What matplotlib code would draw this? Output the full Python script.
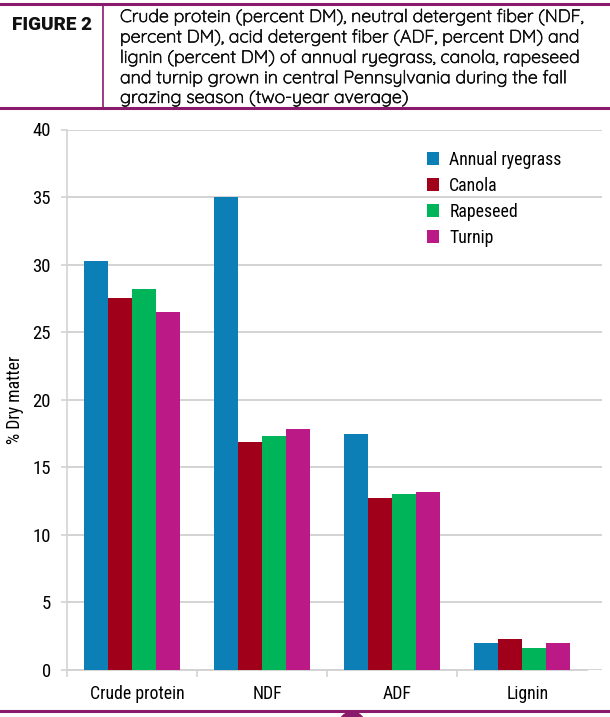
import numpy as np
import matplotlib
matplotlib.use("Agg")
import matplotlib.pyplot as plt
import matplotlib.patheffects as pe
from matplotlib.patches import Ellipse

# data
categories = ["Crude protein", "NDF", "ADF", "Lignin"]
series_names = ["Annual ryegrass", "Canola", "Rapeseed", "Turnip"]
ryegrass = [30.3, 35.0, 17.5, 2.0]
canola = [27.5, 16.9, 12.7, 2.3]
rapeseed = [28.2, 17.3, 13.0, 1.6]
turnip = [26.5, 17.8, 13.2, 2.0]
yticks = [0, 5, 10, 15, 20, 25, 30, 35, 40]

colors = ["#0C7FB6", "#A0001A", "#00B45A", "#BB1A86"]
purple = "#8A1B6C"
narrow = ["Roboto Condensed", "DejaVu Sans"]
capfont = ["Quicksand", "DejaVu Sans"]

fig = plt.figure(figsize=(6.1, 7.17), dpi=100)

# header block
fig.add_artist(plt.Line2D([0, 1], [1 - 4 / 717, 1 - 4 / 717], color=purple, lw=2.2))
fig.add_artist(plt.Line2D([0, 1], [1 - 108 / 717, 1 - 108 / 717], color=purple, lw=2.2))
fig.add_artist(plt.Line2D([103 / 610, 103 / 610], [1 - 108 / 717, 1 - 4 / 717], color=purple, lw=1.2))
fig.text(12 / 610, 1 - 25 / 717, "FIGURE 2", fontsize=13.6, fontweight="black",
         family=["Roboto", "DejaVu Sans"], va="center", ha="left", color="#111111")
caption = ("Crude protein (percent DM), neutral detergent fiber (NDF,\n"
           "percent DM), acid detergent fiber (ADF, percent DM) and\n"
           "lignin (percent DM) of annual ryegrass, canola, rapeseed\n"
           "and turnip grown in central Pennsylvania during the fall\n"
           "grazing season (two-year average)")
fig.text(120 / 610, 1 - 9 / 717, caption, fontsize=12.8, va="top", ha="left",
         family=capfont, weight="bold", color="#111111", linespacing=1.28,
         path_effects=[pe.withStroke(linewidth=0.5, foreground="#111111")])

# bottom rule and small decoration
fig.add_artist(plt.Line2D([0, 1], [1 - 711 / 717, 1 - 711 / 717], color=purple, lw=2.2))
fig.add_artist(Ellipse((352 / 610, -8 / 717), 26 / 610, 26 / 717, color=purple,
                       transform=fig.transFigure))

ax = fig.add_axes([67 / 610, 47 / 717, 535 / 610, 540.5 / 717])

x = np.arange(len(categories))
w = 0.185
all_series = [ryegrass, canola, rapeseed, turnip]
for i, (vals, name) in enumerate(zip(all_series, series_names)):
    ax.bar(x + (i - 1.5) * w, vals, w, color=colors[i], label=name, zorder=3)

ax.set_xlim(-0.5, 3.615)
ax.set_ylim(0, 40)
ax.set_yticks(yticks)
ax.set_yticklabels([str(v) for v in yticks], family=narrow, fontsize=13.5)
ax.yaxis.grid(True, color="#D3D3D3", lw=1.4, zorder=0)
ax.tick_params(axis="y", length=4, color="#D3D3D3", width=1.2, pad=7.5)

ax.set_xticks(x + 0.04)
ax.set_xticklabels(categories, family=narrow, fontsize=12.8)
ax.set_xticks([-0.5, 0.5, 1.5, 2.5], minor=True)
ax.tick_params(axis="x", which="major", length=0, pad=11)
ax.tick_params(axis="x", which="minor", length=5, color="#D3D3D3", width=1.2)

for s in ["top", "right"]:
    ax.spines[s].set_visible(False)
ax.spines["left"].set_color("#D3D3D3")
ax.spines["left"].set_linewidth(1.2)
ax.spines["bottom"].set_color("#D3D3D3")
ax.spines["bottom"].set_linewidth(1.4)
ax.spines["bottom"].set_bounds(-0.5, 3.5)

ax.set_ylabel("% Dry matter", family=narrow, fontsize=12.8, labelpad=6)

leg = ax.legend(loc="upper left", bbox_to_anchor=(0.643, 0.99), frameon=False,
                prop={"family": narrow, "size": 12.8}, handlelength=0.7,
                handleheight=0.7, handletextpad=0.55, labelspacing=0.45)

fig.savefig("out.png", dpi=100)
